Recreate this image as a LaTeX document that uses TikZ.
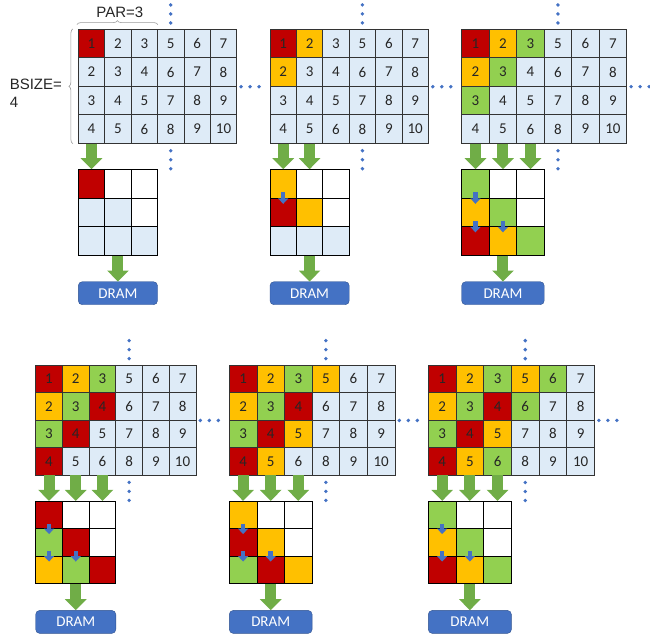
\documentclass[tikz,border=0pt]{standalone}
\usepackage{fontspec}
\setmainfont{Carlito}
\newfontfamily\arialfont{Liberation Sans}
\usepackage{tikz}
\usetikzlibrary{calc,positioning,arrows.meta,decorations.pathreplacing}
\definecolor{cred}{HTML}{C00000}
\definecolor{corange}{HTML}{FFC000}
\definecolor{cgreen}{HTML}{92D050}
\definecolor{cblue}{HTML}{DEEBF7}
\definecolor{arrgreen}{HTML}{70AD47}
\definecolor{ablue}{HTML}{4472C4}
\definecolor{dblue}{HTML}{2F528F}

\begin{document}
\begin{tikzpicture}[x=1pt,y=-1pt,
  cell/.style={draw=black!80,line width=0.8pt,inner sep=0pt,font=\fontsize{15}{17}\selectfont,text=black!85},
  c0/.style={fill=cred}, c1/.style={fill=corange}, c2/.style={fill=cgreen},
  cb/.style={fill=cblue}, cw/.style={fill=white},
  bigarrow/.style={arrgreen,line width=11pt,-{Triangle[width=21pt,length=11pt]}},
  smallarrow/.style={ablue,line width=4.5pt,-{Triangle[width=10pt,length=5.5pt]},shorten <=8.5pt,shorten >=8.5pt},
  dram/.style={draw=dblue,fill=ablue,rounded corners=4pt,text=white,minimum height=23pt,inner sep=0pt,font=\fontsize{15}{17}\selectfont},
  seqdot/.style={fill=ablue},
  lbl/.style={font=\arialfont\fontsize{15}{18}\selectfont,text=black!85,inner sep=2pt},
  curly/.style={draw=black!40,line width=0.6pt,decorate,decoration={brace,amplitude=4pt}}]
\useasboundingbox (0,0) rectangle (650,633);

% one stage per step: table, shift buffer, DRAM
\foreach \k/\xo/\yo/\cw/\ch in {1/78.3/29.3/26.4/28.5,2/270/29.3/26.4/28.5,3/461.7/29.3/27.5/28.5,4/35.7/365/26.7/27.5,5/229.3/365/27.6/27.5,6/428.3/365/27.7/27.5}{
  % table
  \foreach \r in {1,...,4}{
    \foreach \c in {1,...,6}{
      \pgfmathtruncatemacro\v{\c<4 ? \r+\c-1 : \r+\c}
      \pgfmathtruncatemacro\m{mod(\v-1,3)}
      \ifnum\v>\k \edef\tone{cb}\else\edef\tone{c\m}\fi
      \node[cell,\tone,minimum width=\cw pt,minimum height=\ch pt] (s\k-\r-\c) at ({\xo+(\c-0.5)*\cw},{\yo+(\r-0.5)*\ch}) {\v};
    }
  }
  % buffer
  \pgfmathsetmacro\yl{\yo+4*\ch+26.3}
  \foreach \r in {1,2,3}{
    \foreach \c in {1,2,3}{
      \pgfmathtruncatemacro\m{mod(\k-\r+\c-1,3)}
      \ifnum\c>\r \edef\tone{cw}\else\ifnum\k<\r \edef\tone{cb}\else\edef\tone{c\m}\fi\fi
      \node[cell,draw=black,\tone,minimum width=\cw pt,minimum height=\ch pt] (l\k-\r-\c) at ({\xo+(\c-0.5)*\cw},{\yl+(\r-0.5)*\ch}) {};
    }
  }
  \pgfmathtruncatemacro\np{min(\k,3)}
  \foreach \c in {1,...,\np}{
    \draw[bigarrow] (s\k-4-\c.south) -- (l\k-1-\c.north);
  }
  \node[dram,minimum width={3*\cw pt},below=26pt of l\k-3-2] (dram\k) {DRAM};
  \draw[bigarrow] (l\k-3-2.south) -- (dram\k.north);
  \ifnum\k>1 \draw[smallarrow] (l\k-1-1.center) -- (l\k-2-1.center); \fi
  \ifnum\k>2
    \draw[smallarrow] (l\k-2-1.center) -- (l\k-3-1.center);
    \draw[smallarrow] (l\k-2-2.center) -- (l\k-3-2.center);
  \fi
  % dots
  \foreach \d in {6,15,24}{
    \fill[seqdot] ($(s\k-1-4.north)+(0,-\d)$) circle (1.9);
    \fill[seqdot] ($(s\k-4-4.south)+(0,\d+1)$) circle (1.9);
    \fill[seqdot] ($(s\k-2-6.south east)+(\d-2,0)$) circle (1.9);
  }
}

% labels
\draw[curly] ($(s1-1-1.north west)+(-1,-4.3)$) -- ($(s1-1-3.north east)+(0,-4.3)$);
\node[lbl] (par) at ($(s1-1-2.north)+(2,-17)$) {PAR=3};
\draw[curly] ($(s1-4-1.south west)+(-5,0)$) -- ($(s1-1-1.north west)+(-5,0)$);
\node[lbl,align=left,anchor=west] (bsize) at ($(s1-2-1.south west)+(-70.3,7)$) {BSIZE=\\4};
\end{tikzpicture}
\end{document}
